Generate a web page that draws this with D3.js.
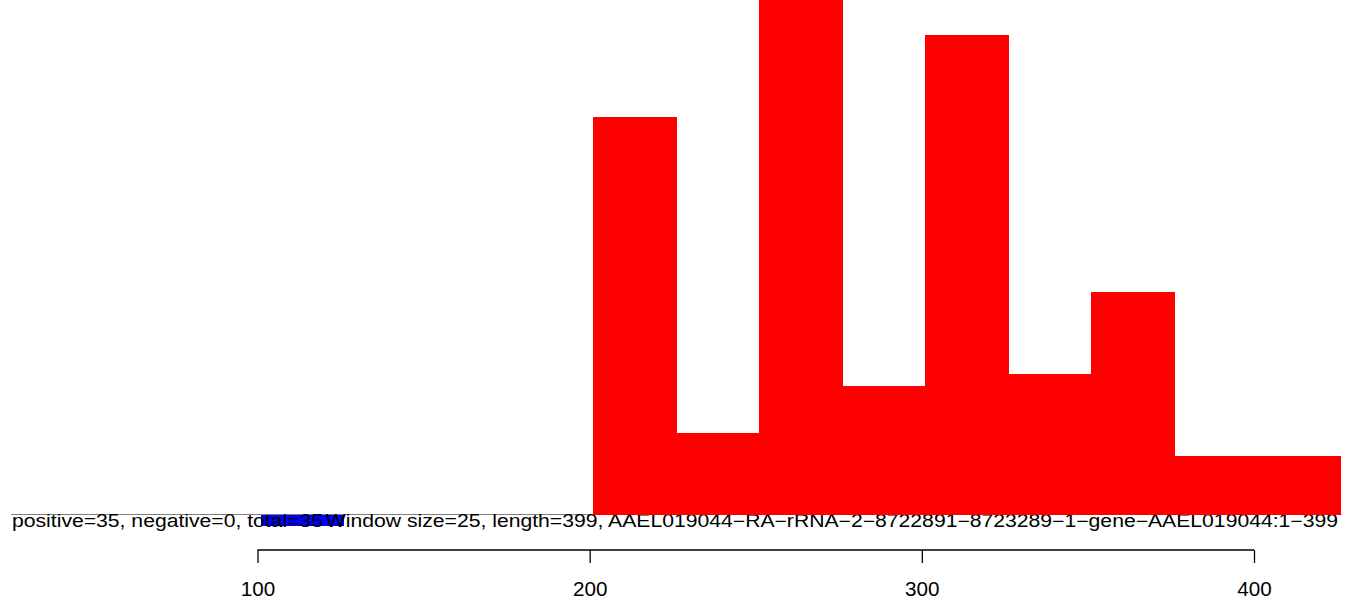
<!DOCTYPE html>
<html>
<head>
<meta charset="utf-8">
<script src="https://cdn.jsdelivr.net/npm/d3@7"></script>
<style>
  html, body { margin: 0; padding: 0; background: #fff; }
  svg { display: block; }
  text { font-family: "Liberation Sans", Arial, Helvetica, sans-serif; }
</style>
</head>
<body>
<svg id="chart" width="1357" height="601"></svg>
<script>
// ---- data ----
const windowSize = 25;
const posStarts = [201, 226, 251, 276, 301, 326, 351, 376, 401];
const posValues = [34, 7, 45, 11, 41, 12, 19, 5, 5];
const negStarts = [101];
const negValues = [1];
const xTicks = [100, 200, 300, 400];
const statsLabel = "positive=35, negative=0, total=35";
const titleLabel = "Window size=25, length=399, AAEL019044\u2212RA\u2212rRNA\u22122\u22128722891\u22128723289\u22121\u2212gene\u2212AAEL019044:1\u2212399";

// ---- layout ----
const svg = d3.select("#chart");
const x = d3.scaleLinear().domain([100, 400]).range([257.5, 1254]);
const y = d3.scaleLinear().domain([0, 44]).range([514.5, 0]);
const xDomainPlot = [25.9, 426.4];
const textSX = 1.21;   // horizontal stretch of the original rendering
const tickSX = 1.06;

// baseline
svg.append("line")
  .attr("x1", x(xDomainPlot[0])).attr("x2", x(xDomainPlot[1]))
  .attr("y1", y(0)).attr("y2", y(0))
  .attr("stroke", "#808080").attr("stroke-width", 1);

// negative (blue) bars
svg.append("g").selectAll("rect")
  .data(negStarts.map((s, i) => ({s, v: negValues[i]})))
  .join("rect")
  .attr("x", d => x(d.s))
  .attr("width", d => x(d.s + windowSize) - x(d.s))
  .attr("y", y(0))
  .attr("height", d => y(-d.v) - y(0))
  .attr("fill", "#0000FF")
  .attr("shape-rendering", "crispEdges");

// labels
svg.append("text")
  .attr("transform", `translate(12,526.5) scale(${textSX},1)`)
  .attr("font-size", 17.5)
  .attr("fill", "#000")
  .text(statsLabel);
svg.append("text")
  .attr("transform", `translate(1338,526.5) scale(${textSX},1)`)
  .attr("text-anchor", "end")
  .attr("font-size", 17.5)
  .attr("fill", "#000")
  .text(titleLabel);

// positive (red) bars
svg.append("g").selectAll("rect")
  .data(posStarts.map((s, i) => ({s, v: posValues[i]})))
  .join("rect")
  .attr("x", d => x(d.s))
  .attr("width", d => x(d.s + windowSize) - x(d.s) + 0.6)
  .attr("y", d => y(d.v))
  .attr("height", d => y(0) - y(d.v))
  .attr("fill", "#FF0000")
  .attr("shape-rendering", "crispEdges");

// x axis
const axis = d3.axisBottom(x).tickValues(xTicks).tickFormat(d3.format("d")).tickSizeOuter(0).tickSize(13);
const gx = svg.append("g").attr("transform", "translate(0,550)").call(axis);
gx.select(".domain").attr("stroke", "#000").attr("stroke-width", 1.3).attr("d", `M${x(100)},0H${x(400)}`);
gx.selectAll(".tick line").attr("stroke", "#000").attr("stroke-width", 1.3);
gx.selectAll(".tick text")
  .attr("y", null).attr("dy", null)
  .attr("transform", `translate(0,46) scale(${tickSX},1)`)
  .attr("font-size", 19.5)
  .attr("fill", "#000")
  .attr("font-family", "Liberation Sans, Arial, sans-serif");
</script>
</body>
</html>
